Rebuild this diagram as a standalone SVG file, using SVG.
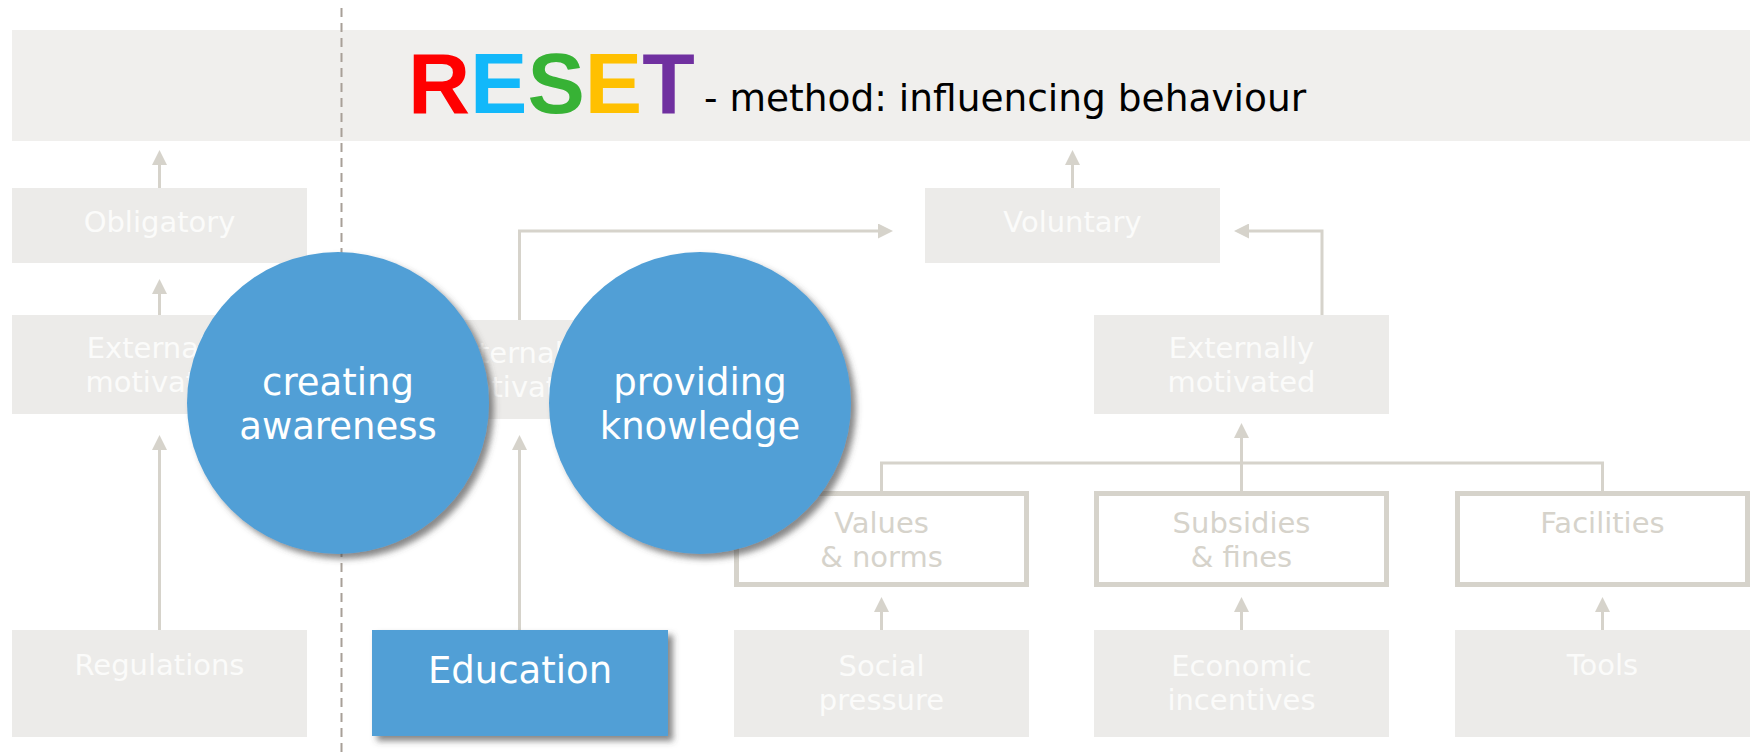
<svg xmlns="http://www.w3.org/2000/svg" width="1758" height="754" viewBox="0 0 1758 754">
  <style>
    .band { fill: #f0efed; }
    .box { fill: #ecebe9; }
    .obox { fill: #ffffff; stroke: #d6d3cb; stroke-width: 5; }
    .lbl { font-family: "DejaVu Sans", Verdana, sans-serif; font-size: 29px; fill: #fbfbfa; text-anchor: middle; }
    .olbl { font-family: "DejaVu Sans", Verdana, sans-serif; font-size: 29px; fill: #d6d3cb; text-anchor: middle; }
    .conn { fill: none; stroke: #d6d3cb; stroke-width: 3; }
    .circ { fill: #519fd6; }
    .clbl { font-family: "DejaVu Sans", Verdana, sans-serif; font-size: 37px; fill: #ffffff; text-anchor: middle; }
    .reset { font-family: "Liberation Sans", Arial, sans-serif; font-weight: bold; font-size: 86px; }
    .title { font-family: "DejaVu Sans", Verdana, sans-serif; font-size: 37.5px; fill: #000000; }
  </style>
  <defs>
    <marker id="ah" markerUnits="userSpaceOnUse" viewBox="0 0 15 15" markerWidth="15" markerHeight="15" refX="0" refY="7.5" orient="auto">
      <path d="M0,0 L15,7.5 L0,15 z" fill="#d6d3cb"/>
    </marker>
    <filter id="sh" x="-20%" y="-20%" width="150%" height="150%">
      <feDropShadow dx="5" dy="5" stdDeviation="3" flood-color="#4a4a4a" flood-opacity="0.65"/>
    </filter>
  </defs>

  <g id="header">
    <rect class="band" x="12" y="30" width="1738" height="111"/>
    <text class="reset" x="408" y="113"><tspan fill="#ff0000">R</tspan><tspan fill="#12b8fa">E</tspan><tspan fill="#37b235">S</tspan><tspan fill="#ffc000">E</tspan><tspan fill="#7030a0">T</tspan></text>
    <text class="title" x="704" y="111">- method: influencing behaviour</text>
  </g>

  <g id="obligatory">
    <rect class="box" x="12" y="188" width="295" height="75"/>
    <text class="lbl" x="159.5" y="232">Obligatory</text>
  </g>
  <g id="externally-left">
    <rect class="box" x="12" y="315" width="295" height="99"/>
    <text class="lbl" x="159.5" y="358">Externally</text>
    <text class="lbl" x="159.5" y="392">motivated</text>
  </g>
  <g id="regulations">
    <rect class="box" x="12" y="630" width="295" height="107"/>
    <text class="lbl" x="159.5" y="675">Regulations</text>
  </g>
  <g id="internally">
    <rect class="box" x="372" y="320" width="295" height="99"/>
    <text class="lbl" x="519.5" y="363">Internally</text>
    <text class="lbl" x="519.5" y="397">motivated</text>
  </g>
  <g id="voluntary">
    <rect class="box" x="925" y="188" width="295" height="75"/>
    <text class="lbl" x="1072.5" y="232">Voluntary</text>
  </g>
  <g id="externally-right">
    <rect class="box" x="1094" y="315" width="295" height="99"/>
    <text class="lbl" x="1241.5" y="358">Externally</text>
    <text class="lbl" x="1241.5" y="392">motivated</text>
  </g>
  <g id="values">
    <rect class="obox" x="736.5" y="493.5" width="290" height="91"/>
    <text class="olbl" x="881.5" y="533">Values</text>
    <text class="olbl" x="881.5" y="567">&amp; norms</text>
  </g>
  <g id="subsidies">
    <rect class="obox" x="1096.5" y="493.5" width="290" height="91"/>
    <text class="olbl" x="1241.5" y="533">Subsidies</text>
    <text class="olbl" x="1241.5" y="567">&amp; fines</text>
  </g>
  <g id="facilities">
    <rect class="obox" x="1457.5" y="493.5" width="290" height="91"/>
    <text class="olbl" x="1602.5" y="533">Facilities</text>
  </g>
  <g id="social">
    <rect class="box" x="734" y="630" width="295" height="107"/>
    <text class="lbl" x="881.5" y="676">Social</text>
    <text class="lbl" x="881.5" y="710">pressure</text>
  </g>
  <g id="economic">
    <rect class="box" x="1094" y="630" width="295" height="107"/>
    <text class="lbl" x="1241.5" y="676">Economic</text>
    <text class="lbl" x="1241.5" y="710">incentives</text>
  </g>
  <g id="tools">
    <rect class="box" x="1455" y="630" width="295" height="107"/>
    <text class="lbl" x="1602.5" y="675">Tools</text>
  </g>

  <g id="connectors">
    <path class="conn" d="M159.5,188 V165" marker-end="url(#ah)"/>
    <path class="conn" d="M159.5,315 V294" marker-end="url(#ah)"/>
    <path class="conn" d="M159.5,630 V450" marker-end="url(#ah)"/>
    <path class="conn" d="M519.5,630 V450" marker-end="url(#ah)"/>
    <path class="conn" d="M519.5,320 V231 H878" marker-end="url(#ah)"/>
    <path class="conn" d="M1072.5,188 V165" marker-end="url(#ah)"/>
    <path class="conn" d="M1322,315 V231 H1249" marker-end="url(#ah)"/>
    <path class="conn" d="M881.5,491 V463 H1602.5 V491"/>
    <path class="conn" d="M1241.5,491 V438" marker-end="url(#ah)"/>
    <path class="conn" d="M881.5,630 V612" marker-end="url(#ah)"/>
    <path class="conn" d="M1241.5,630 V612" marker-end="url(#ah)"/>
    <path class="conn" d="M1602.5,630 V612" marker-end="url(#ah)"/>
  </g>

  <g id="divider">
    <line x1="341.5" y1="8" x2="341.5" y2="754" stroke="#a8a098" stroke-width="2" stroke-dasharray="9 6"/>
  </g>

  <g id="creating-awareness">
    <circle class="circ" cx="338" cy="403" r="151" filter="url(#sh)"/>
    <text class="clbl" x="338" y="395">creating</text>
    <text class="clbl" x="338" y="439">awareness</text>
  </g>
  <g id="providing-knowledge">
    <circle class="circ" cx="700" cy="403" r="151" filter="url(#sh)"/>
    <text class="clbl" x="700" y="395">providing</text>
    <text class="clbl" x="700" y="439">knowledge</text>
  </g>
  <g id="education">
    <rect class="circ" x="372" y="630" width="296" height="106" filter="url(#sh)"/>
    <text class="clbl" x="520" y="683">Education</text>
  </g>
</svg>
